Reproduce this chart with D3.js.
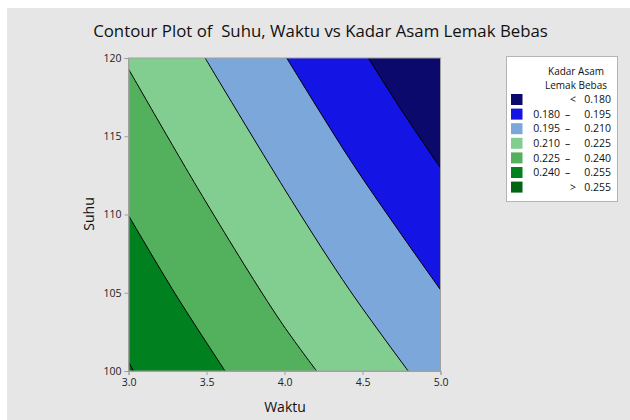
<!DOCTYPE html>
<html>
<head>
<meta charset="utf-8">
<script src="https://cdn.jsdelivr.net/npm/d3@7"></script>
<style>
  html, body { margin: 0; padding: 0; background: #ffffff; }
  svg { display: block; font-family: "Open Sans", "Noto Sans", sans-serif; }
</style>
</head>
<body>
<svg id="chart" width="630" height="420"></svg>
<script>
// ---- data ----
const title = "Contour Plot of  Suhu, Waktu vs Kadar Asam Lemak Bebas";
const xLabel = "Waktu";
const yLabel = "Suhu";
const waktuTicks = [3.0, 3.5, 4.0, 4.5, 5.0];
const suhuTicks = [100, 105, 110, 115, 120];
const levels = [0.180, 0.195, 0.210, 0.225, 0.240, 0.255];
const bandColors = ["#0b0a6c", "#1414e4", "#7ba7da", "#82ce90", "#53b05c", "#00801f", "#006414"];
const legendTitle = ["Kadar Asam", "Lemak Bebas"];
const legendLow = ["", "0.180", "0.195", "0.210", "0.225", "0.240", ""];
const legendSep = ["<", "–", "–", "–", "–", "–", ">"];
const legendHigh = ["0.180", "0.195", "0.210", "0.225", "0.240", "0.255", "0.255"];

// contour lines as [Waktu, Suhu] points, ordered from top/left edge to bottom/right edge
const contour180 = [[4.537, 120], [4.759, 116.53], [5.0, 112.98]];
const contour195 = [[4.014, 120], [4.424, 113.45], [4.731, 108.98], [5.0, 105.19]];
const contour210 = [[3.491, 120], [4.046, 110.89], [4.419, 105.15], [4.793, 100]];
const contour225 = [[3.0, 119.30], [3.491, 110.89], [3.971, 103.23], [4.206, 100]];
const contour240 = [[3.0, 109.94], [3.299, 104.94], [3.619, 100]];
const contour255 = [[3.0, 100.57], [3.032, 100]];
const contours = [contour180, contour195, contour210, contour225, contour240, contour255];

// ---- layout ----
const svg = d3.select("#chart");
const W = 630, H = 420;
const plot = { left: 128.5, right: 440.5, top: 58, bottom: 371 };

svg.append("rect").attr("x", 0).attr("y", 0).attr("width", W).attr("height", H).attr("fill", "#ffffff");
svg.append("rect").attr("x", 7).attr("y", 8).attr("width", W - 7).attr("height", H - 8).attr("fill", "#e6e6e6");

const x = d3.scaleLinear().domain([3, 5]).range([plot.left, plot.right]);
const y = d3.scaleLinear().domain([100, 120]).range([plot.bottom, plot.top]);

svg.append("clipPath").attr("id", "plotclip")
  .append("rect").attr("x", plot.left).attr("y", plot.top)
  .attr("width", plot.right - plot.left).attr("height", plot.bottom - plot.top);

const g = svg.append("g").attr("clip-path", "url(#plotclip)");

// base band (lowest values)
g.append("rect").attr("x", plot.left).attr("y", plot.top)
  .attr("width", plot.right - plot.left).attr("height", plot.bottom - plot.top)
  .attr("fill", bandColors[0]);

const lineGen = d3.line().x(d => x(d[0])).y(d => y(d[1])).curve(d3.curveCatmullRom.alpha(0.5));

contours.forEach((pts, i) => {
  const start = pts[0], end = pts[pts.length - 1];
  const corners = [];
  if (end[0] >= 5 && end[1] > 100) corners.push([5, 100]);
  corners.push([3, 100]);
  if (start[1] >= 120 && start[0] > 3) corners.push([3, 120]);
  let d = lineGen(pts);
  corners.forEach(c => { d += "L" + x(c[0]) + "," + y(c[1]); });
  d += "Z";
  g.append("path").attr("d", d).attr("fill", bandColors[i + 1]);
});

contours.forEach(pts => {
  g.append("path").attr("d", lineGen(pts)).attr("fill", "none")
    .attr("stroke", "#000000").attr("stroke-width", 1);
});

// frame
const axisColor = "#a0a0a0";
svg.append("rect").attr("x", plot.left).attr("y", plot.top)
  .attr("width", plot.right - plot.left).attr("height", plot.bottom - plot.top)
  .attr("fill", "none").attr("stroke", axisColor).attr("stroke-width", 1);

// axes
const xAxis = svg.append("g").attr("transform", `translate(0,${plot.bottom})`)
  .call(d3.axisBottom(x).tickValues(waktuTicks).tickFormat(d3.format(".1f")).tickSize(4).tickPadding(4));
const yAxis = svg.append("g").attr("transform", `translate(${plot.left},0)`)
  .call(d3.axisLeft(y).tickValues(suhuTicks).tickFormat(d3.format("d")).tickSize(4).tickPadding(3));
[xAxis, yAxis].forEach(a => {
  a.select(".domain").attr("stroke", axisColor);
  a.selectAll(".tick line").attr("stroke", axisColor);
  a.selectAll(".tick text").attr("fill", "#222222").style("font-size", "10.5px")
    .style("font-family", "'Open Sans', sans-serif");
});

// title
const t = svg.append("text").attr("x", 320.5).attr("y", 37).attr("text-anchor", "middle")
  .attr("fill", "#111111").style("font-size", "16px").style("white-space", "pre")
  .attr("xml:space", "preserve").text(title);
const tw = t.node().getComputedTextLength();
t.style("font-size", (16 * 455 / tw).toFixed(2) + "px");

// axis labels
svg.append("text").attr("x", 285).attr("y", 412).attr("text-anchor", "middle")
  .attr("fill", "#111111").style("font-size", "14px").text(xLabel);
svg.append("text").attr("transform", "translate(94,214) rotate(-90)").attr("text-anchor", "middle")
  .attr("fill", "#111111").style("font-size", "14px").text(yLabel);

// legend
const lg = svg.append("g");
lg.append("rect").attr("x", 506.5).attr("y", 56.5).attr("width", 111).attr("height", 145)
  .attr("fill", "#ffffff").attr("stroke", "#b4b4b4").attr("stroke-width", 1);
legendTitle.forEach((s, i) => {
  lg.append("text").attr("x", 576).attr("y", 75 + i * 14).attr("text-anchor", "middle")
    .attr("fill", "#111111").style("font-size", "10px").text(s);
});
const rowY = d3.range(bandColors.length).map(i => 99.5 + i * 14.6);
bandColors.forEach((c, i) => {
  const ry = rowY[i];
  lg.append("rect").attr("x", 511).attr("y", ry - 5.5).attr("width", 11.5).attr("height", 11)
    .attr("fill", c);
  if (legendLow[i]) {
    lg.append("text").attr("x", 560).attr("y", ry + 3.7).attr("text-anchor", "end")
      .attr("fill", "#111111").style("font-size", "10.5px").text(legendLow[i]);
  }
  lg.append("text").attr("x", legendSep[i] === "–" ? 567.5 : 573).attr("y", ry + 3.7).attr("text-anchor", "middle")
    .attr("fill", "#111111").style("font-size", "10.5px").text(legendSep[i]);
  lg.append("text").attr("x", 611).attr("y", ry + 3.7).attr("text-anchor", "end")
    .attr("fill", "#111111").style("font-size", "10.5px").text(legendHigh[i]);
});
</script>
</body>
</html>
